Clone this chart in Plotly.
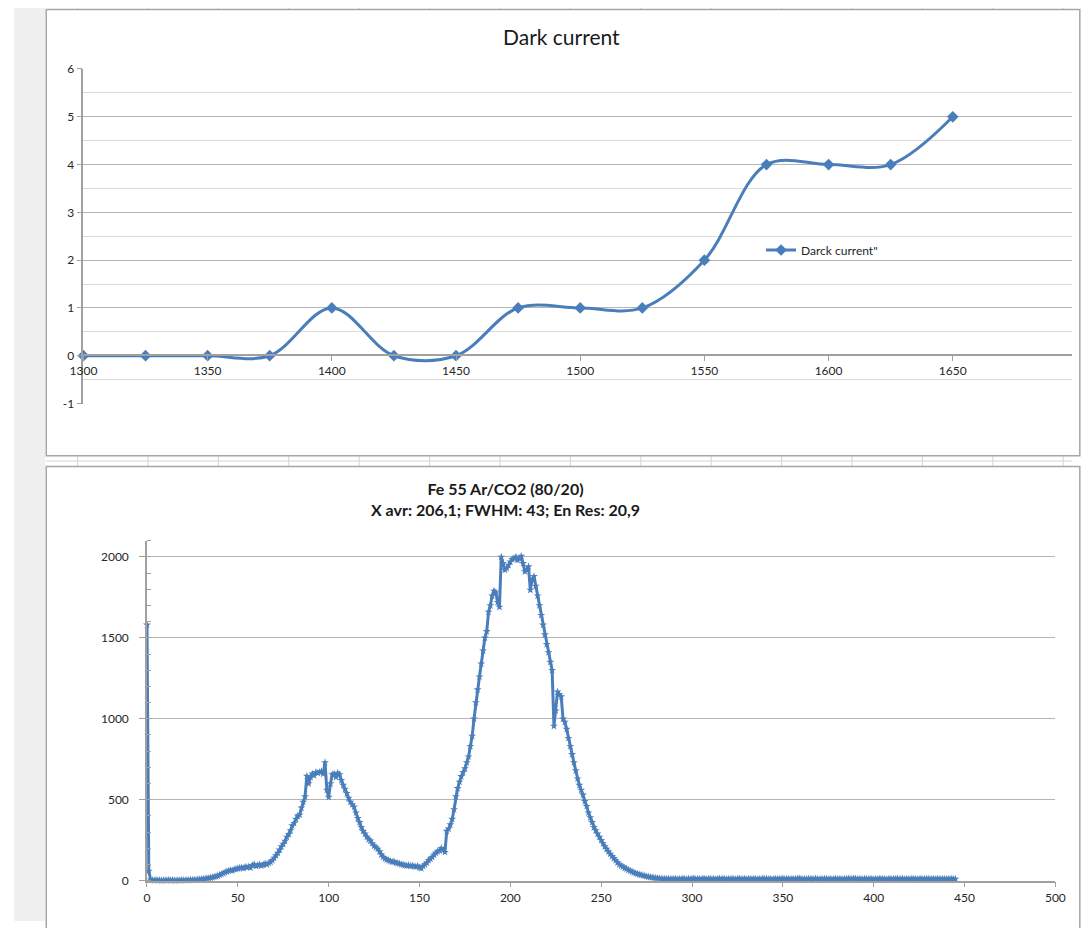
import plotly.graph_objects as go

W, H = 1082, 928

# ---------------- data ----------------
dc_voltage = [1300, 1325, 1350, 1375, 1400, 1425, 1450, 1475, 1500, 1525, 1550, 1575, 1600, 1625, 1650]
dc_current = [0, 0, 0, 0, 1, 0, 0, 1, 1, 1, 2, 4, 4, 4, 5]
dc_y_tickvals = [-1, 0, 1, 2, 3, 4, 5, 6]
dc_y_ticktext = ["-1", "0", "1", "2", "3", "4", "5", "6"]

spec_counts = [
    1580, 60, 5, 3, 2, 4, 2, 3, 1, 2,
    3, 2, 4, 2, 3, 2, 1, 3, 2, 4,
    3, 2, 4, 3, 5, 4, 6, 5, 7, 8,
    8, 10, 12, 14, 16, 18, 20, 24, 26, 30,
    35, 40, 45, 52, 56, 60, 65, 62, 70, 72,
    75, 78, 80, 76, 85, 82, 86, 80, 95, 100,
    90, 95, 100, 92, 98, 105, 100, 108, 115, 125,
    140, 155, 170, 190, 210, 226, 245, 270, 286, 310,
    340, 355, 380, 400, 406, 450, 486, 520, 646, 600,
    640, 660, 650, 670, 665, 670, 675, 660, 730, 560,
    516, 600, 656, 660, 640, 665, 656, 620, 590, 566,
    540, 510, 486, 470, 456, 420, 386, 360, 330, 306,
    290, 270, 255, 246, 230, 215, 205, 196, 180, 160,
    145, 136, 130, 125, 120, 116, 118, 110, 108, 105,
    100, 98, 96, 92, 95, 90, 93, 88, 86, 90,
    80, 76, 90, 100, 110, 126, 135, 145, 160, 170,
    180, 186, 200, 190, 176, 306, 320, 346, 380, 440,
    520, 570, 610, 644, 670, 693, 730, 766, 830, 893,
    1000, 1100, 1180, 1260, 1340, 1420, 1500, 1540, 1660, 1700,
    1760, 1790, 1780, 1720, 1690, 2000, 1960, 1920, 1930, 1950,
    1970, 1985, 1990, 2000, 1980, 1990, 2005, 1960, 1910, 1920,
    1940, 1795, 1860, 1880, 1820, 1760, 1700, 1640, 1580, 1520,
    1460, 1410, 1350, 1300, 955, 1050, 1167, 1150, 1137, 1000,
    980, 936, 880, 830, 780, 730, 680, 630, 590, 560,
    530, 490, 460, 420, 390, 360, 330, 310, 290, 270,
    250, 230, 210, 195, 180, 165, 150, 138, 125, 112,
    100, 92, 85, 78, 72, 66, 60, 55, 50, 45,
    42, 38, 35, 32, 29, 26, 24, 22, 20, 18,
    16, 15, 14, 12, 11, 12, 10, 11, 9, 10,
    10, 12, 8, 11, 9, 13, 10, 8, 12, 9,
    11, 14, 9, 10, 12, 8, 13, 11, 9, 10,
    12, 9, 11, 8, 10, 13, 9, 12, 10, 8,
    11, 9, 12, 10, 8, 11, 13, 9, 10, 12,
    8, 10, 11, 9, 12, 10, 8, 11, 9, 13,
    10, 12, 9, 11, 8, 10, 12, 9, 11, 10,
    13, 9, 10, 12, 8, 11, 9, 10, 12, 14,
    11, 9, 10, 8, 12, 10, 11, 9, 13, 10,
    8, 11, 9, 12, 10, 9, 11, 8, 10, 12,
    9, 11, 10, 8, 12, 9, 13, 11, 10, 14,
    12, 9, 11, 10, 8, 12, 10, 9, 11, 10,
    8, 11, 9, 12, 10, 11, 9, 8, 10, 12,
    9, 11, 10, 13, 9, 10, 12, 8, 11, 10,
    9, 12, 10, 11, 8, 10, 12, 9, 11, 10,
    12, 9, 10, 11, 8, 12, 10, 9, 11, 10,
    9, 11, 10, 12, 9, 10,
]
spec_channel = list(range(len(spec_counts)))
spec_y_tickvals = [0, 500, 1000, 1500, 2000]

top_title = "Dark current"
legend_name = "Darck current\""
bottom_title = "<b>Fe 55 Ar/CO2 (80/20)<br>X avr: 206,1; FWHM: 43; En Res: 20,9</b>"

# ---------------- style ----------------
BLUE = "#4a7ebb"
AXIS = "#a0a0a0"
GRID = "#b5b5b5"
MINOR = "#dcdcdc"
TXT = "#262626"
FONT = "Lato"


def fx(px):
    return px / W


def fy(py):
    return 1 - py / H


fig = go.Figure()

fig.add_trace(go.Scatter(
    x=dc_voltage, y=dc_current, mode="lines+markers", name=legend_name,
    line=dict(color=BLUE, width=3, shape="spline", smoothing=1.0),
    marker=dict(symbol="diamond", size=9, color=BLUE),
    cliponaxis=False, xaxis="x", yaxis="y", showlegend=True,
))

fig.add_trace(go.Scatter(
    x=spec_channel, y=spec_counts, mode="lines+markers", name="spectrum",
    line=dict(color=BLUE, width=3),
    marker=dict(symbol="star", size=6, color=BLUE),
    cliponaxis=False, xaxis="x2", yaxis="y2", showlegend=False,
))

# background: spreadsheet look
shapes = []
shapes.append(dict(type="rect", xref="paper", yref="paper", x0=0, x1=fx(32), y0=0, y1=1,
                   fillcolor="#f0f0f0", line=dict(width=0), layer="below"))
for k in range(15):
    cx = 65 + 72 * k
    if cx > W:
        break
    shapes.append(dict(type="line", xref="paper", yref="paper", x0=fx(cx), x1=fx(cx),
                       y0=fy(455), y1=fy(466), line=dict(color="#d4d4d4", width=1), layer="below"))
    shapes.append(dict(type="line", xref="paper", yref="paper", x0=fx(cx), x1=fx(cx),
                       y0=fy(0), y1=fy(2), line=dict(color="#d4d4d4", width=1), layer="below"))
shapes.append(dict(type="line", xref="paper", yref="paper", x0=fx(33), x1=1, y0=fy(460.5), y1=fy(460.5),
                   line=dict(color="#d4d4d4", width=1), layer="below"))
# chart frames
shapes.append(dict(type="rect", xref="paper", yref="paper", x0=fx(33), x1=fx(1090), y0=fy(455), y1=fy(1.5),
                   fillcolor="white", line=dict(color="#a6a6a6", width=1.5), layer="below"))
shapes.append(dict(type="rect", xref="paper", yref="paper", x0=fx(33), x1=fx(1090), y0=fy(940), y1=fy(466),
                   fillcolor="white", line=dict(color="#a6a6a6", width=1.5), layer="below"))

tickfont = dict(family=FONT, size=12, color=TXT)

fig.update_layout(
    width=W, height=H, margin=dict(l=0, r=0, t=0, b=0, pad=0),
    paper_bgcolor="white", plot_bgcolor="rgba(0,0,0,0)",
    shapes=shapes,
    xaxis=dict(domain=[fx(71), 1], range=[1300, 1698], anchor="free", position=fy(353),
               dtick=50, tick0=1300, showgrid=False, zeroline=False,
               showline=True, linecolor=AXIS, linewidth=1.5,
               ticks="outside", ticklen=5, tickcolor=AXIS, tickfont=tickfont),
    yaxis=dict(domain=[fy(402), fy(62)], range=[-1, 6], anchor="x",
               tickmode="array", tickvals=dc_y_tickvals, ticktext=dc_y_ticktext,
               showgrid=True, gridcolor=GRID, gridwidth=1.3, zeroline=False,
               minor=dict(dtick=0.5, showgrid=True, gridcolor=MINOR, gridwidth=1),
               showline=True, linecolor=AXIS, linewidth=1.5,
               ticks="outside", ticklen=5, tickcolor=AXIS, tickfont=tickfont),
    xaxis2=dict(domain=[fx(136), fx(1065)], range=[0, 500], anchor="y2", dtick=50,
                showgrid=False, zeroline=False, showline=True, linecolor=AXIS, linewidth=1.5,
                ticks="outside", ticklen=5, tickcolor=AXIS, tickfont=tickfont),
    yaxis2=dict(domain=[fy(887), fy(541.5)], range=[0, 2100], anchor="x2",
                tickmode="array", tickvals=spec_y_tickvals,
                showgrid=True, gridcolor=GRID, gridwidth=1.3, zeroline=False,
                showline=True, linecolor=AXIS, linewidth=1.5,
                ticks="outside", ticklen=6, tickcolor=AXIS, tickfont=tickfont, ticklabelstandoff=8,
                minor=dict(dtick=100, ticks="inside", ticklen=4, tickcolor=AXIS, showgrid=False)),
    legend=dict(x=fx(764), y=fy(246), xanchor="left", yanchor="middle",
                bgcolor="rgba(0,0,0,0)", font=dict(family=FONT, size=12, color=TXT)),
    annotations=[
        dict(text=top_title, xref="paper", yref="paper", x=fx(560), y=fy(29),
             xanchor="center", yanchor="middle", showarrow=False,
             font=dict(family=FONT, size=21, color="#1a1a1a")),
        dict(text=bottom_title, xref="paper", yref="paper", x=fx(503), y=fy(499),
             xanchor="center", yanchor="middle", showarrow=False, align="center",
             font=dict(family=FONT, size=16, color="#1a1a1a")),
    ],
)

fig.write_html(
    "out.html",
    config={"displayModeBar": False},
    post_script="document.body.style.margin='0';document.body.style.overflow='hidden';",
)
